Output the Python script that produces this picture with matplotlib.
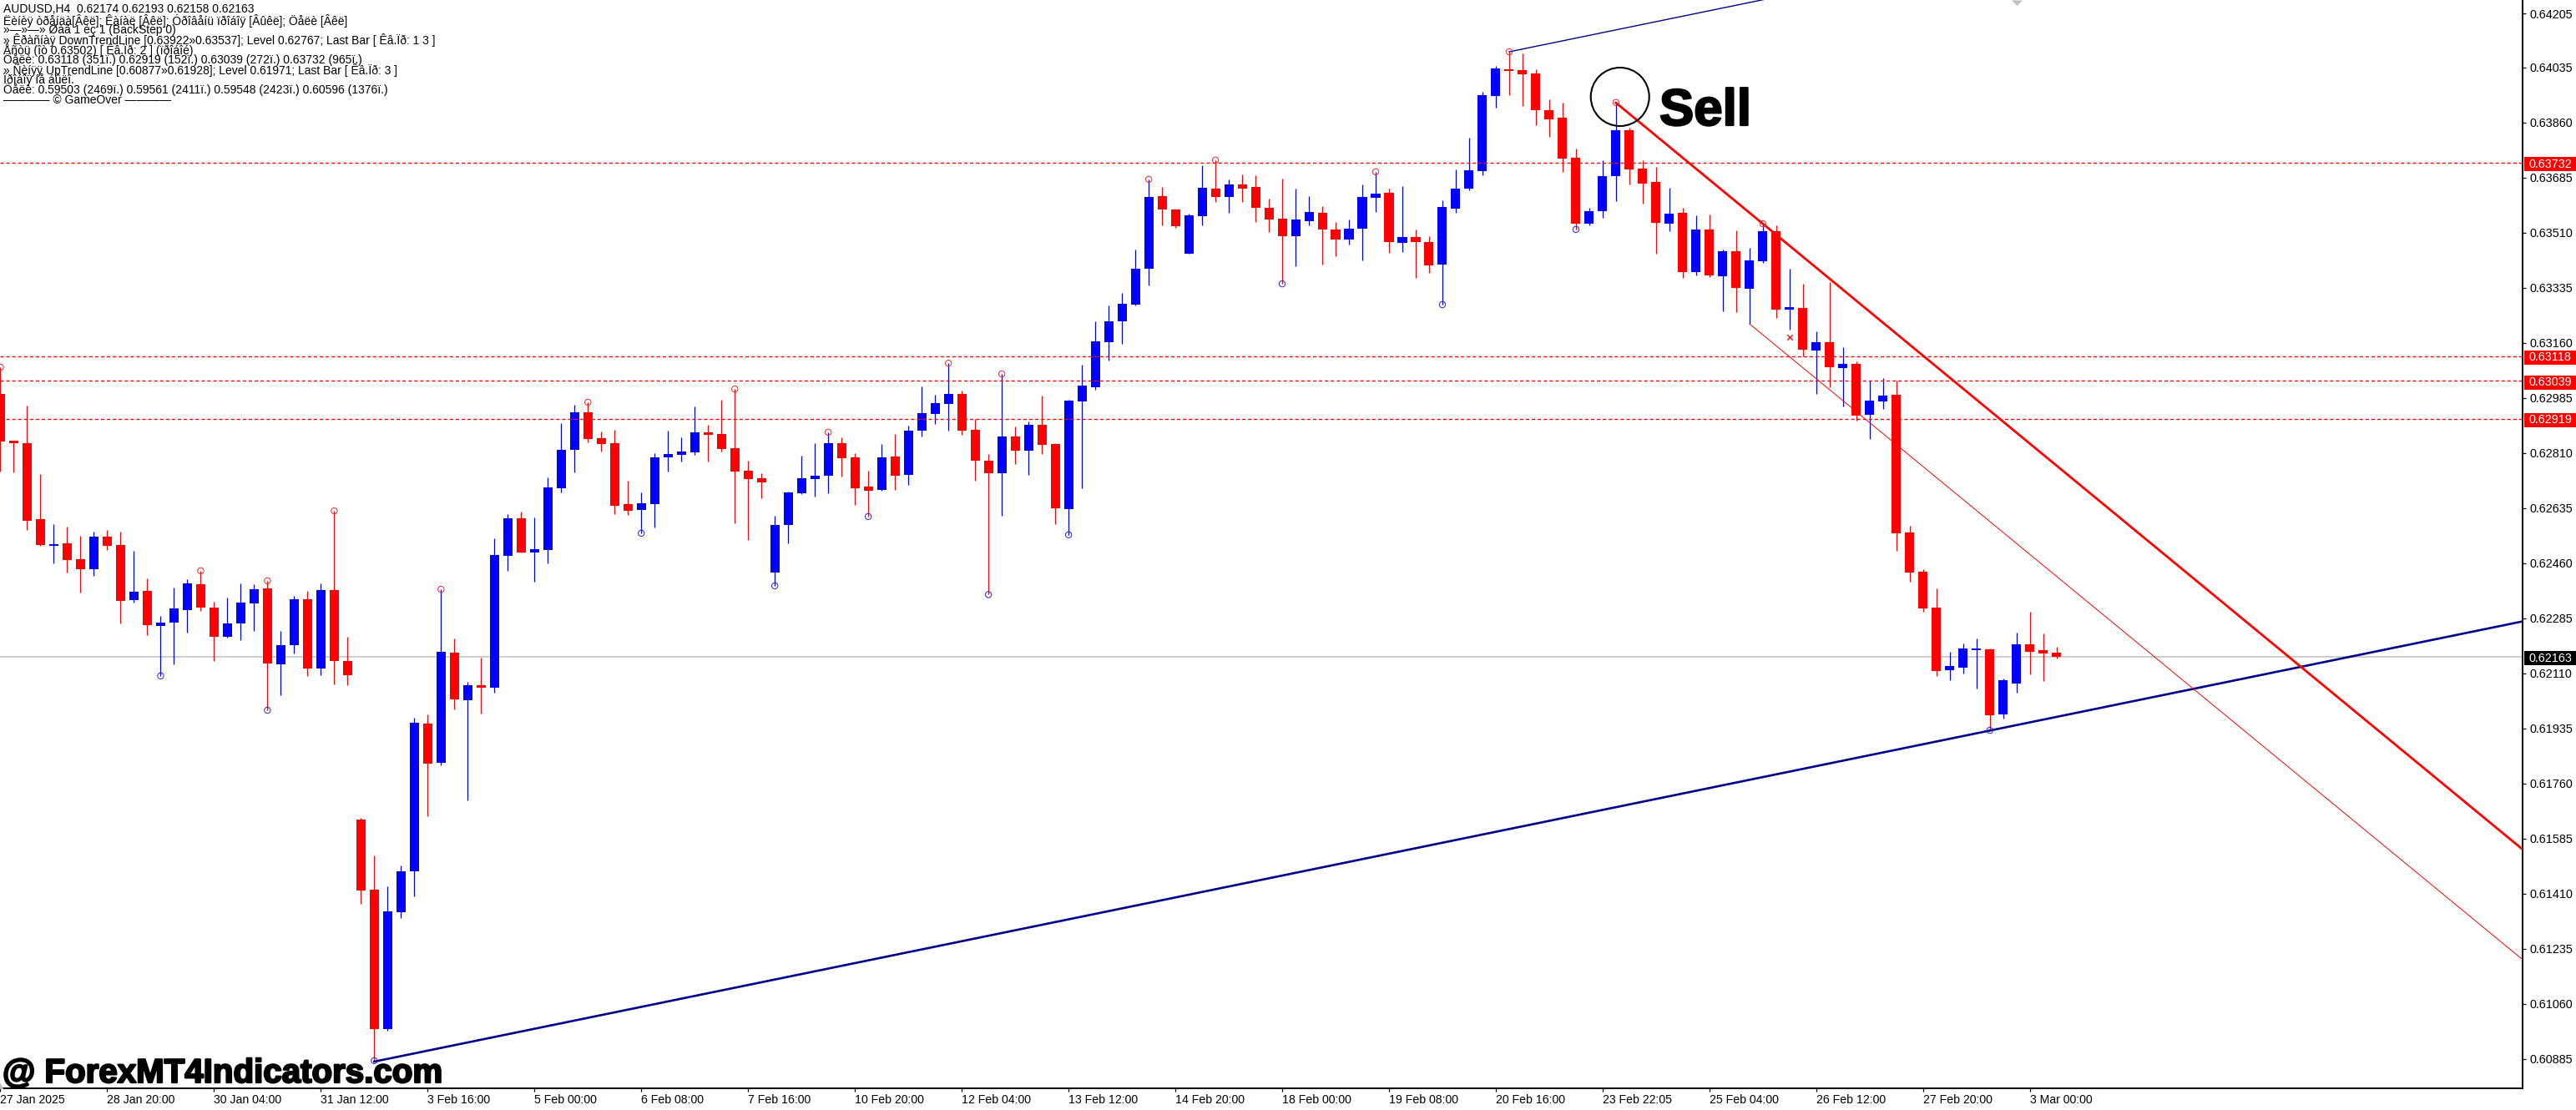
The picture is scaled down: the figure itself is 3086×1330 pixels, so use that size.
import matplotlib
matplotlib.use("Agg")
import matplotlib.pyplot as plt
import matplotlib.patheffects as pe
from matplotlib.patches import Rectangle

plt.rcParams['font.family'] = ['Liberation Sans', 'DejaVu Sans']

opens = [0.62998,0.62849,0.62841,0.62600,0.62515,0.62523,0.62473,0.62441,0.62544,0.62518,
         0.62343,0.62372,0.62261,0.62271,0.62311,0.62393,0.62319,0.62226,0.62269,0.62332,
         0.62380,0.62139,0.62200,0.62346,0.62126,0.62375,0.62149,0.61646,0.61423,0.60980,
         0.61351,0.61481,0.61951,0.61826,0.62176,0.62025,0.62073,0.62065,0.62483,0.62603,
         0.62494,0.62502,0.62698,0.62820,0.62939,0.62857,0.62841,0.62648,0.62629,0.62648,
         0.62796,0.62804,0.62812,0.62876,0.62870,0.62825,0.62754,0.62730,0.62430,0.62581,
         0.62682,0.62727,0.62738,0.62841,0.62796,0.62703,0.62693,0.62799,0.62740,0.62881,
         0.62934,0.62966,0.62997,0.62883,0.62785,0.62746,0.62862,0.62817,0.62899,0.62838,
         0.62632,0.62974,0.63019,0.63162,0.63228,0.63281,0.63395,0.63626,0.63583,0.63443,
         0.63562,0.63650,0.63623,0.63663,0.63655,0.63589,0.63554,0.63498,0.63546,0.63573,
         0.63520,0.63488,0.63522,0.63620,0.63636,0.63477,0.63496,0.63480,0.63408,0.63586,
         0.63650,0.63706,0.63944,0.64029,0.64026,0.64015,0.63899,0.63875,0.63748,0.63538,
         0.63578,0.63689,0.63835,0.63713,0.63671,0.63538,0.63573,0.63384,0.63520,0.63371,
         0.63451,0.63331,0.63419,0.63514,0.63265,0.63270,0.63135,0.63162,0.63080,0.63093,
         0.62931,0.62974,0.62995,0.62558,0.62433,0.62319,0.62120,0.62128,0.62184,0.62186,
         0.61980,0.62078,0.62202,0.62184,0.62176]
highs = [0.63082,0.62849,0.62960,0.62743,0.62584,0.62576,0.62547,0.62560,0.62565,0.62560,
         0.62499,0.62412,0.62292,0.62383,0.62409,0.62436,0.62338,0.62351,0.62396,0.62393,
         0.62404,0.62245,0.62356,0.62372,0.62396,0.62626,0.62226,0.61650,0.61532,0.61434,
         0.61500,0.61969,0.61980,0.62377,0.62221,0.62083,0.62160,0.62539,0.62616,0.62624,
         0.62605,0.62732,0.62905,0.62963,0.62971,0.62878,0.62884,0.62722,0.62685,0.62809,
         0.62881,0.62860,0.62958,0.62899,0.62979,0.63013,0.62785,0.62746,0.62611,0.62687,
         0.62801,0.62841,0.62876,0.62860,0.62809,0.62754,0.62838,0.62870,0.62897,0.63021,
         0.62995,0.63095,0.63008,0.62918,0.62807,0.63061,0.62894,0.62910,0.62992,0.62841,
         0.62979,0.63090,0.63228,0.63278,0.63318,0.63456,0.63679,0.63655,0.63583,0.63570,
         0.63724,0.63740,0.63679,0.63695,0.63692,0.63618,0.63681,0.63650,0.63626,0.63594,
         0.63543,0.63551,0.63663,0.63703,0.63650,0.63657,0.63520,0.63498,0.63612,0.63710,
         0.63811,0.63957,0.64039,0.64084,0.64079,0.64029,0.63933,0.63923,0.63777,0.63589,
         0.63740,0.63923,0.63843,0.63740,0.63718,0.63652,0.63589,0.63565,0.63567,0.63456,
         0.63517,0.63461,0.63538,0.63533,0.63395,0.63347,0.63196,0.63353,0.63146,0.63101,
         0.63040,0.63048,0.63040,0.62579,0.62441,0.62380,0.62179,0.62205,0.62221,0.62189,
         0.62094,0.62239,0.62306,0.62237,0.62194]
lows = [0.62751,0.62748,0.62565,0.62515,0.62459,0.62430,0.62367,0.62420,0.62502,0.62269,
        0.62335,0.62231,0.62102,0.62139,0.62239,0.62308,0.62149,0.62224,0.62216,0.62245,
        0.61993,0.62041,0.62173,0.62102,0.62104,0.62075,0.62073,0.61378,0.60880,0.60975,
        0.61333,0.61402,0.61656,0.61818,0.61996,0.61707,0.61982,0.62049,0.62436,0.62494,
        0.62401,0.62459,0.62685,0.62748,0.62844,0.62815,0.62616,0.62613,0.62555,0.62573,
        0.62751,0.62783,0.62804,0.62783,0.62815,0.62587,0.62534,0.62666,0.62388,0.62523,
        0.62679,0.62671,0.62682,0.62735,0.62645,0.62608,0.62690,0.62693,0.62708,0.62862,
        0.62902,0.62881,0.62868,0.62722,0.62360,0.62611,0.62775,0.62740,0.62807,0.62584,
        0.62550,0.62698,0.63011,0.63103,0.63157,0.63278,0.63342,0.63533,0.63525,0.63443,
        0.63533,0.63607,0.63573,0.63607,0.63543,0.63512,0.63347,0.63403,0.63533,0.63408,
        0.63435,0.63472,0.63421,0.63575,0.63445,0.63448,0.63366,0.63382,0.63281,0.63573,
        0.63644,0.63692,0.63907,0.63946,0.63912,0.63851,0.63814,0.63703,0.63520,0.63533,
        0.63557,0.63610,0.63663,0.63602,0.63443,0.63514,0.63366,0.63374,0.63369,0.63260,
        0.63257,0.63220,0.63414,0.63239,0.63202,0.63118,0.62998,0.63019,0.62958,0.62913,
        0.62854,0.62950,0.62499,0.62401,0.62306,0.62102,0.62088,0.62110,0.62062,0.61929,
        0.61966,0.62049,0.62107,0.62086,0.62157]
closes = [0.62846,0.62841,0.62595,0.62518,0.62520,0.62470,0.62441,0.62544,0.62515,0.62340,
          0.62369,0.62263,0.62271,0.62316,0.62396,0.62319,0.62226,0.62269,0.62335,0.62377,
          0.62141,0.62200,0.62346,0.62126,0.62375,0.62149,0.62104,0.61420,0.60980,0.61354,
          0.61481,0.61953,0.61823,0.62179,0.62027,0.62073,0.62065,0.62486,0.62603,0.62494,
          0.62505,0.62701,0.62820,0.62939,0.62854,0.62838,0.62642,0.62626,0.62650,0.62796,
          0.62807,0.62815,0.62876,0.62868,0.62823,0.62751,0.62727,0.62717,0.62581,0.62685,
          0.62730,0.62738,0.62841,0.62793,0.62698,0.62690,0.62796,0.62738,0.62881,0.62936,
          0.62968,0.62997,0.62881,0.62785,0.62746,0.62862,0.62817,0.62899,0.62836,0.62634,
          0.62976,0.63024,0.63164,0.63228,0.63284,0.63395,0.63623,0.63583,0.63530,0.63565,
          0.63652,0.63623,0.63663,0.63650,0.63589,0.63551,0.63498,0.63551,0.63575,0.63520,
          0.63488,0.63522,0.63623,0.63634,0.63480,0.63496,0.63480,0.63406,0.63591,0.63650,
          0.63708,0.63946,0.64031,0.64023,0.64013,0.63899,0.63870,0.63745,0.63538,0.63578,
          0.63689,0.63835,0.63711,0.63665,0.63541,0.63570,0.63384,0.63520,0.63374,0.63451,
          0.63334,0.63422,0.63514,0.63265,0.63273,0.63138,0.63162,0.63082,0.63093,0.62929,
          0.62976,0.62992,0.62555,0.62430,0.62316,0.62118,0.62133,0.62189,0.62189,0.61977,
          0.62088,0.62202,0.62179,0.62173,0.62163]

date_labels = ["27 Jan 2025","28 Jan 20:00","30 Jan 04:00","31 Jan 12:00","3 Feb 16:00","5 Feb 00:00",
               "6 Feb 08:00","7 Feb 16:00","10 Feb 20:00","12 Feb 04:00","13 Feb 12:00","14 Feb 20:00",
               "18 Feb 00:00","19 Feb 08:00","20 Feb 16:00","23 Feb 22:05","25 Feb 04:00","26 Feb 12:00",
               "27 Feb 20:00","3 Mar 00:00"]
price_ticks = [0.64205,0.64035,0.63860,0.63685,0.63510,0.63335,0.63160,0.62985,0.62810,0.62635,
               0.62460,0.62285,0.62110,0.61935,0.61760,0.61585,0.61410,0.61235,0.61060,0.60885]

level_lines = [0.63732,0.63118,0.63039,0.62919]
bid_price = 0.62163

# swing markers from the zigzag indicator
swing_high_bars = [0,15,20,25,33,44,55,62,71,75,86,91,103,113,121,132]
swing_low_bars = [12,20,28,48,58,65,74,80,96,108,118,149]

up_line_x = [28,188.9]
up_line_y = [0.60877,0.62275]
up_top_x = [113,133]
up_top_y = [0.64084,0.64258]
down_line_x = [121,188.9]
down_line_y = [0.63922,0.61551]
down_thin_x = [131,188.9]
down_thin_y = [0.63220,0.61201]

header = ["AUDUSD,H4  0.62174 0.62193 0.62158 0.62163",
          "Ëèíèÿ òðåíäà[Âêë]; Êàíàë [Âêë]; Óðîâåíü ïðîáîÿ [Âûêë]; Öåëè [Âêë]",
          "»—»—» Øàã 1 èç 1 (BackStep 0)",
          "» Êðàñíàÿ DownTrendLine [0.63922»0.63537]; Level 0.62767; Last Bar [ Êâ.Ïð: 1 3 ]",
          "Åñòü (îò 0.63502) [ Êâ.Ïð: 2 ] (ïðîáîé)",
          "Öåëè: 0.63118 (351ï.) 0.62919 (152ï.) 0.63039 (272ï.) 0.63732 (965ï.)",
          "» Ñèíÿÿ UpTrendLine [0.60877»0.61928]; Level 0.61971; Last Bar [ Êâ.Ïð: 3 ]",
          "Ïðîáîÿ íå áûëî.",
          "Öåëè: 0.59503 (2469ï.) 0.59561 (2411ï.) 0.59548 (2423ï.) 0.60596 (1376ï.)",
          "———— © GameOver ————"]
header_y = [11,25,36,48,60,72,84,96,108,120]

W, H = 3086, 1330
y_top, y_bottom = 0.642485, 0.607922

fig = plt.figure(figsize=(W/100, H/100), dpi=100)
ax = fig.add_axes([0, 1-1304/H, 3022/W, 1304/H])
ax.set_xlim(-0.03, 188.9)
ax.set_ylim(y_bottom, y_top)

bars = list(range(len(opens)))
colors = ["#0000ff" if c > o else "#ff0000" for o, c in zip(opens, closes)]

ax.axhline(bid_price, color="#c0c0c0", lw=1.1, zorder=1)
ax.vlines(bars, lows, highs, colors=colors, lw=0.9, zorder=2)
ax.bar(bars, [abs(c-o) for o, c in zip(opens, closes)], bottom=[min(o, c) for o, c in zip(opens, closes)],
       width=0.69, color=colors, linewidth=0, zorder=3)

for lv in level_lines:
    ax.axhline(lv, color="#ff0000", lw=1.0, linestyle=(0, (2.9, 2.2)), zorder=4)

ax.plot(up_line_x, up_line_y, color="#00008b", lw=1.9, zorder=5)
ax.plot(up_top_x, up_top_y, color="#00008b", lw=1.0, zorder=5)
ax.plot(down_line_x, down_line_y, color="#ff0000", lw=2.0, zorder=5)
ax.plot(down_thin_x, down_thin_y, color="#ff0000", lw=0.7, zorder=5)

ax.scatter(swing_high_bars, [highs[i] for i in swing_high_bars], s=28, facecolors="none",
           edgecolors="#ff2020", linewidths=0.7, zorder=6)
ax.scatter(swing_low_bars, [lows[i] for i in swing_low_bars], s=28, facecolors="none",
           edgecolors="#2020ff", linewidths=0.7, zorder=6)
ax.scatter([134], [0.63178], marker="x", s=22, color="#ff2020", linewidths=1.1, zorder=6)

# big sell circle and the small grey corner arrows
ax.scatter([121.3], [0.63941], s=2540, facecolors="none", edgecolors="black", linewidths=1.5, zorder=7)
ax.scatter([151], [y_top], marker=[(-1, 0), (1, 0), (0, -1)], s=88, color="#c0c0c0", linewidths=0, zorder=6)
ax.scatter([0], [y_bottom], marker="^", s=100, color="#c0c0c0", linewidths=0, zorder=6)

ax.spines['top'].set_visible(False)
ax.spines['left'].set_visible(False)
ax.spines['right'].set_linewidth(1.4)
ax.spines['bottom'].set_linewidth(1.4)

ax.set_xticks(list(range(0, 8*len(date_labels), 8)))
ax.set_xticklabels(date_labels, ha="left", fontsize=10.2)
ax.tick_params(axis="x", length=3, width=0.9, pad=2)
ax.yaxis.tick_right()
ax.set_yticks(price_ticks)
ax.set_yticklabels([f"{p:.5f}" for p in price_ticks], fontsize=10.4)
ax.tick_params(axis="y", length=3, width=0.9, pad=3)

# price tags on the right scale
tag_h = 0.00045
ytrans = ax.get_yaxis_transform()
for lv, bg in [(p, "#ff0000") for p in level_lines] + [(bid_price, "#000000")]:
    ax.add_patch(Rectangle((1.0007, lv-tag_h/2-0.00005), 64/3022, tag_h, transform=ytrans,
                           facecolor=bg, edgecolor="none", clip_on=False, zorder=8))
    ax.text(1+7/3022, lv-0.00005, f"{lv:.5f}", transform=ytrans, color="white", fontsize=10.4,
            va="center", ha="left", clip_on=False, zorder=9)

for line, y in zip(header, header_y):
    fig.text(4/W, 1-y/H, line, fontsize=10.0, va="center", ha="left", color="black")

stroke = [pe.withStroke(linewidth=1.6, foreground="black")]
fig.text(1988/W, 1-150/H, "Sell", fontsize=44.5, fontweight="bold", va="baseline", ha="left",
         color="black", path_effects=stroke)
fig.text(3/W, 1-1297/H, "@ ForexMT4Indicators.com", fontsize=29, fontweight="bold", va="baseline",
         ha="left", color="black", path_effects=stroke)

fig.savefig("out.png", dpi=100)
